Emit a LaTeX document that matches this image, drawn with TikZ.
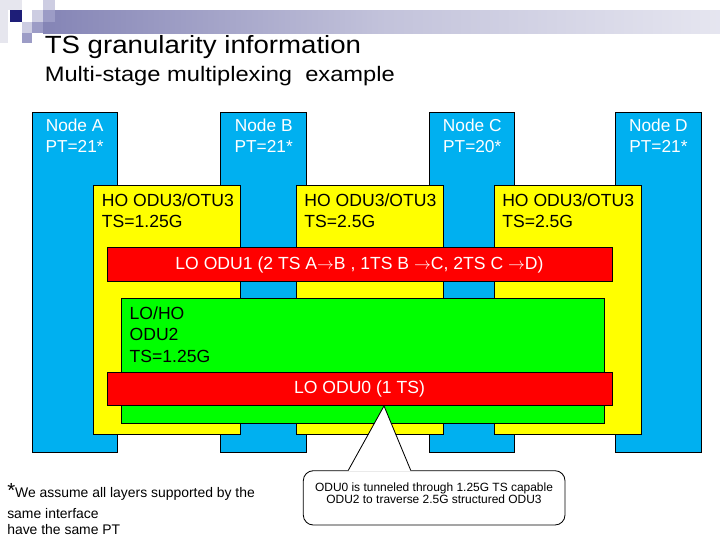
\documentclass[tikz,border=0pt]{standalone}
\usepackage{fontspec}
\setmainfont{Liberation Sans}
\newfontfamily\headfont{Liberation Sans}[FakeStretch=1.11]
\newfontfamily\subheadfont{Liberation Sans}[FakeStretch=1.13]
\usepackage{tikz}
\usetikzlibrary{calc,positioning}
\usepackage{xcolor}
\definecolor{pixnavy}{HTML}{1E1E78}
\definecolor{pixmid}{HTML}{9C9CC6}
\definecolor{pixpale}{HTML}{CDCDE2}
\definecolor{pixlight}{HTML}{E6E6EE}
\definecolor{nodeblue}{HTML}{00B0F0}
\definecolor{hoyellow}{HTML}{FFFF00}
\definecolor{lored}{HTML}{FF0000}
\definecolor{odugreen}{HTML}{00FF00}
\newlength{\pxl}
\setlength{\pxl}{0.025cm}
\pgfdeclarehorizontalshading{titlebar}{100bp}{color(0bp)=(pixnavy); color(20bp)=(pixnavy!60!white); color(50bp)=(pixnavy!27!white); color(85bp)=(pixnavy!5!white); color(100bp)=(white)}

\begin{document}
\begin{tikzpicture}[x=0.025cm,y=-0.025cm,
    colbox/.style={draw,line width=0.6pt,fill=nodeblue,anchor=north west,
      minimum width=85\pxl,minimum height=340\pxl,inner sep=0pt},
    hobox/.style={draw,line width=0.6pt,fill=hoyellow,anchor=north west,
      minimum width=147\pxl,minimum height=248.7\pxl,inner sep=0pt},
    lobar/.style={draw,line width=0.6pt,fill=lored,text=white,
      minimum width=505\pxl,inner sep=0pt,font=\fontsize{12.5}{15}\selectfont},
    coltext/.style={text=white,align=center,inner sep=0pt,
      font=\fontsize{12.3}{14.9}\selectfont},
    hotext/.style={anchor=west,align=left,inner sep=0pt,
      font=\fontsize{12.5}{15.4}\selectfont}]
      \useasboundingbox (0,0) rectangle (720,540);
      \shade[shading=titlebar] (43,10) rectangle (720,33);
      \fill[pixlight] (0,0) rectangle (22,10);
      \fill[pixlight] (0,10) rectangle (8,43);
      \fill[pixnavy] (10,10) rectangle (22,22);
      \fill[pixpale] (32,10) rectangle (43,22);
      \fill[pixpale] (43,0) rectangle (55,10);
      \fill[pixmid] (43,10) rectangle (55,22);
      \fill[pixpale] (22,22) rectangle (32,33);
      \fill[pixmid] (32,22) rectangle (43,33);
      \fill[pixmid] (22,33) rectangle (32,43);
      \node[anchor=base west,inner sep=0pt,font=\headfont\fontsize{17.7}{20}\selectfont]
        (title) at (44.5,53) {TS granularity information};
      \node[anchor=base west,inner sep=0pt,font=\subheadfont\fontsize{14.9}{17}\selectfont]
        (subtitle) at (44.5,81.7) {Multi-stage multiplexing\ \ example};

      \node[colbox] (nodeA) at (31.7,111.7) {};
      \node[colbox,minimum width=86\pxl] (nodeB) at (220.3,111.7) {};
      \node[colbox] (nodeC) at (429.3,111.7) {};
      \node[colbox,minimum width=85.4\pxl] (nodeD) at (615.3,111.7) {};
      \node[coltext] (ptA) at ($(nodeA.north)+(0,24.5)$) {Node A\\PT=21*};
      \node[coltext] (ptB) at ($(nodeB.north)+(0,24.5)$) {Node B\\PT=21*};
      \node[coltext] (ptC) at ($(nodeC.north)+(0,24.5)$) {Node C\\PT=20*};
      \node[coltext] (ptD) at ($(nodeD.north)+(0,24.5)$) {Node D\\PT=21*};

      \node[hobox] (hoAB) at (93.2,185.3) {};
      \node[hobox] (hoBC) at (295.7,185.3) {};
      \node[hobox] (hoCD) at (493.5,185.3) {};
      \node[hotext] (tsAB) at ($(hoAB.north west)+(8.5,25.5)$) {HO ODU3/OTU3\\TS=1.25G};
      \node[hotext] (tsBC) at ($(hoBC.north west)+(8.5,25.5)$) {HO ODU3/OTU3\\TS=2.5G};
      \node[hotext] (tsCD) at ($(hoCD.north west)+(8.5,25.5)$) {HO ODU3/OTU3\\TS=2.5G};

      \node[lobar,minimum height=34\pxl] (odu1) at (359.5,264.5)
        {LO ODU1 (2 TS A$\rightarrow$B , 1TS B $\rightarrow$C, 2TS C $\rightarrow$D)};
      \node[draw,line width=0.6pt,fill=odugreen,anchor=north west,inner sep=0pt,
        minimum width=482.2\pxl,minimum height=125\pxl] (odu2) at (121.4,298.3) {};
      \node[hotext,font=\fontsize{12.5}{15.6}\selectfont] (odu2ts)
        at ($(odu2.north west)+(8,36.4)$) {LO/HO\\ODU2\\TS=1.25G};
      \node[lobar,minimum height=33.2\pxl] (odu0) at (359.5,388.9) {LO ODU0 (1 TS)};

      \node[draw,line width=0.6pt,fill=white,rounded corners=10\pxl,
        minimum width=261.7\pxl,minimum height=54.3\pxl] (note) at (434.15,497.85) {};
      \coordinate (tip) at ($(odu0.south)+(24.5,0)$);
      \coordinate (baseL) at ($(note.north)+(-85.85,0)$);
      \coordinate (baseR) at ($(note.north)+(-23.45,0)$);
      \fill[white] ($(baseL)+(0,1.2)$) -- (tip) -- ($(baseR)+(0,1.2)$) -- cycle;
      \draw[line width=0.6pt] (baseL) -- (tip) -- (baseR);
      \node[align=center,inner sep=0pt,font=\fontsize{8.5}{8.9}\selectfont]
        (notetext) at (434,493)
        {ODU0 is tunneled through 1.25G TS capable\\ODU2 to traverse 2.5G structured ODU3};

      \node[anchor=south west,align=left,inner sep=0pt,font=\fontsize{9.9}{11.4}\selectfont]
        (footnote) at (7,534.5)
        {{\fontsize{14.5}{14.5}\selectfont *}We assume all layers supported by the\\[3pt]
         same interface\\have the same PT};
    \end{tikzpicture}
\end{document}
